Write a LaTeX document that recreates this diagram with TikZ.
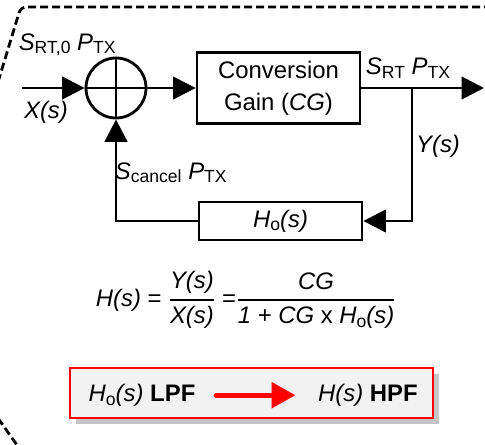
\documentclass[tikz,border=0pt]{standalone}
\usepackage{amsmath}
\usepackage{fontspec}
\setmainfont{Liberation Sans}
\usetikzlibrary{arrows.meta,shadows}
\newcommand{\lsub}[1]{\raisebox{-.3ex}{\fontsize{12.5}{13}\selectfont #1}}
\begin{document}
\begin{tikzpicture}[x=1cm,y=1cm,line width=2pt,font=\fontsize{17}{23}\selectfont,
  blk/.style={draw,rectangle,inner sep=0pt,minimum width=4.075cm},
  arr/.style={-{Triangle[length=16pt,width=16pt]}},
  lbl/.style={inner sep=1pt},
  frame/.style={line width=2pt,dash pattern=on 0.2cm off 0.1cm,rounded corners=4pt}]
\useasboundingbox (0,0) rectangle (12.125,11.1);
\draw[frame] (-0.05,9.05) -- (0.52,10.925) -- (12.2,10.925);
\draw[frame] (-0.05,0.645) -- (0.42,-0.02);
\node[draw,circle,minimum size=1.5cm,inner sep=0pt] (sum) at (2.9,8.9) {};
\draw (sum.north) -- (sum.south) (sum.west) -- (sum.east);
\node[blk,minimum height=1.775cm,align=center] (cg) at (6.9625,8.9) {Conversion\\Gain (\textit{CG})};
\node[blk,minimum height=0.95cm] (ho) at (7.0125,5.575) {\textit{H}\lsub{o}\textit{(s)}};
\coordinate (in) at (0.55,8.9);
\coordinate (out) at (12.1,8.9);
\coordinate (br) at (10.3,8.9);
\draw[arr] (in) -- (sum);
\draw[arr] (sum) -- (cg);
\draw[arr] (cg) -- (out);
\draw[arr] (br) |- (ho);
\draw[arr] (ho) -| (sum);
\node[lbl] (srt0) at (1.68,9.98) {\textit{S}\lsub{RT,0} \textit{P}\lsub{TX}};
\node[lbl] (xs) at (1.15,8.28) {\textit{X(s)}};
\node[lbl] (srt) at (10.2,9.4) {\textit{S}\lsub{RT} \textit{P}\lsub{TX}};
\node[lbl] (ys) at (10.95,7.45) {\textit{Y(s)}};
\node[lbl] (scan) at (4.27,6.78) {\textit{S}\lsub{cancel} \textit{P}\lsub{TX}};
\node[lbl] (eq) at (6.15,3.6) {\textit{H(s)} = $\displaystyle\genfrac{}{}{1.3pt}{}{\textit{Y(s)}}{\textit{X(s)}}$ =$\displaystyle\genfrac{}{}{1.3pt}{}{\textit{CG}}{\mbox{\textit{1 + CG} x \textit{H}\lsub{o}\textit{(s)}}}$};
\node[draw=red,fill=gray!10,line width=1.5pt,minimum width=9.075cm,minimum height=1.25cm,
  drop shadow={shadow xshift=4pt,shadow yshift=-4pt,opacity=.45}] (res) at (6.2875,1.275) {};
\node[lbl] (lpf) at (3.55,1.22) {\textit{H}\lsub{o}\textit{(s)} \textbf{LPF}};
\node[lbl] (hpf) at (9.2,1.22) {\textit{H(s)} \textbf{HPF}};
\draw[red,line width=3.5pt,line cap=round,-{Triangle[length=17pt,width=18pt]}] (lpf.east)++(0.45,0) coordinate (a0) -- ([xshift=-0.5cm]hpf.west);
\end{tikzpicture}
\end{document}
